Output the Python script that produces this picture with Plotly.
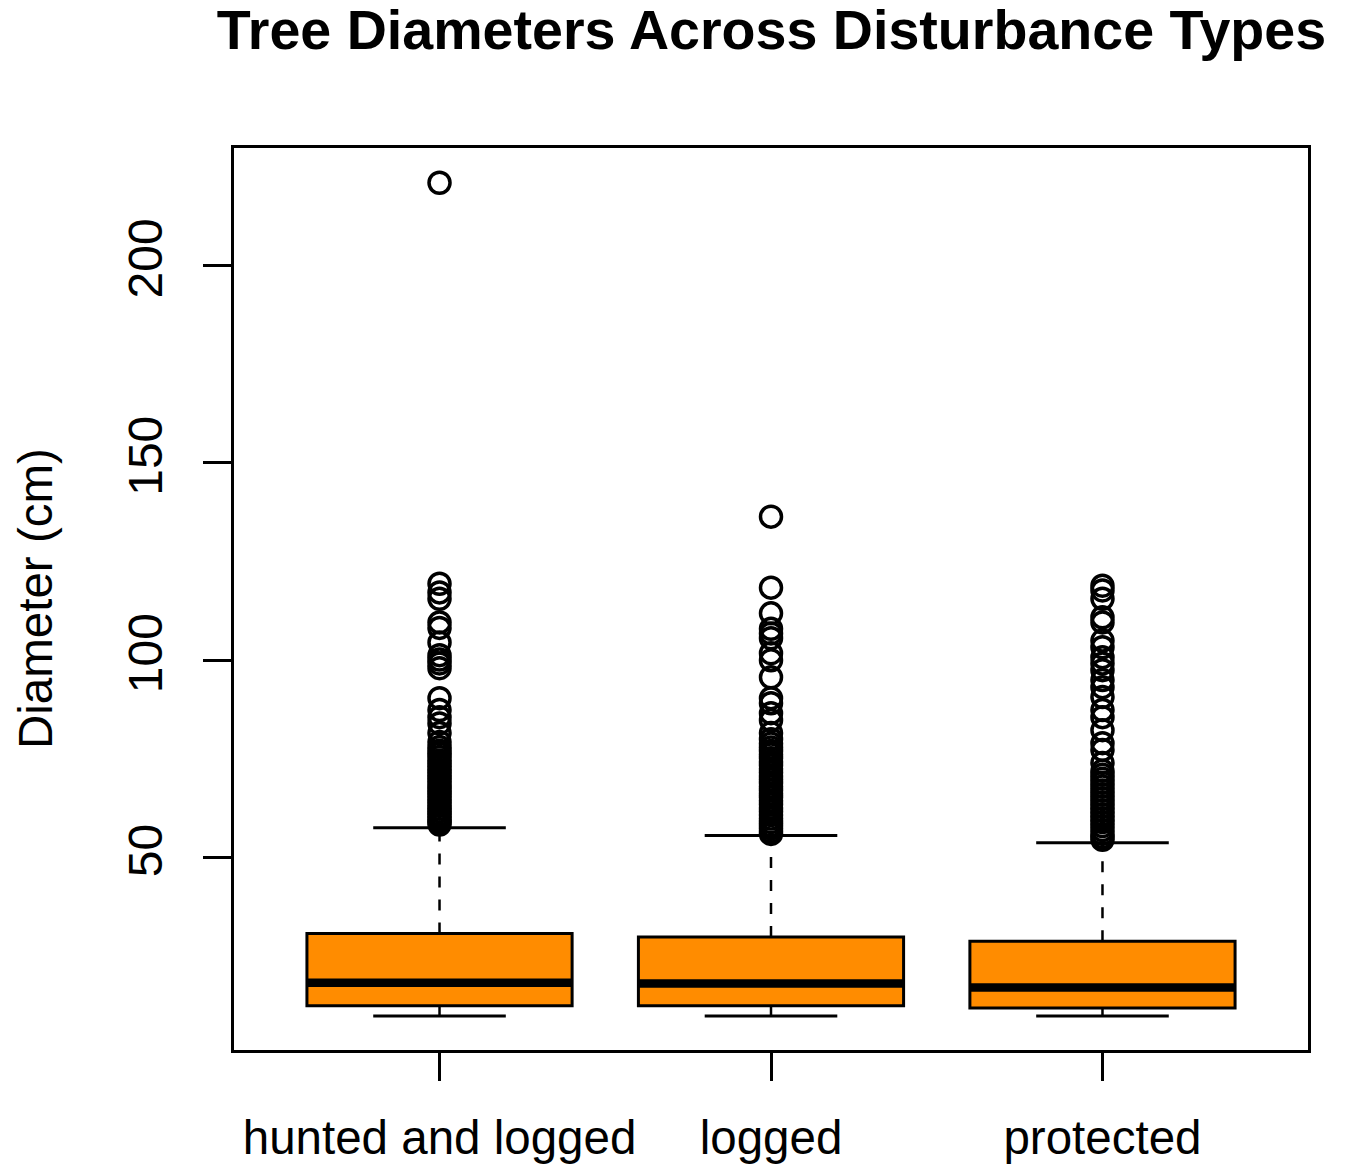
import plotly.graph_objects as go

categories = ["hunted and logged", "logged", "protected"]
lower_whisker = [9.9, 9.9, 9.9]
q1 = [12.5, 12.5, 11.9]
median = [18.3, 18.1, 17.1]
q3 = [30.8, 29.9, 28.8]
upper_whisker = [57.6, 55.6, 53.8]

outliers_hunted = [221.0, 119.4, 117.2, 115.6, 109.6, 108.2, 104.5, 101.3, 100.2, 99.2, 98.0,
                   90.4, 87.4, 85.6, 84.0, 81.6, 79.3, 78.0, 77.1, 76.3, 75.5, 74.6, 73.8,
                   73.0, 72.2, 71.5, 70.7, 70.0, 69.2, 68.4, 67.6, 66.9, 66.1, 65.4, 64.6,
                   63.9, 63.1, 62.4, 61.7, 61.0, 60.3, 59.6, 59.0, 58.4]
outliers_logged = [136.4, 118.4, 111.9, 108.0, 106.8, 105.6, 101.8, 100.0, 95.7, 90.4, 89.1,
                   86.6, 84.8, 81.6, 80.0, 78.9, 77.9, 77.0, 76.1, 75.2, 74.3, 73.4, 72.5,
                   71.6, 70.7, 69.8, 68.9, 68.0, 67.1, 66.2, 65.3, 64.4, 63.5, 62.6, 61.7,
                   60.8, 59.9, 59.0, 58.2, 57.4, 56.6, 56.0]
outliers_protected = [118.9, 117.7, 115.6, 110.9, 109.6, 105.0, 103.3, 100.8, 99.2, 97.5, 95.0,
                      93.2, 90.7, 87.4, 85.6, 82.3, 79.0, 77.3, 74.0, 72.0, 71.0, 70.0, 69.0,
                      68.0, 67.0, 66.0, 65.0, 64.0, 63.0, 62.0, 61.0, 60.0, 59.0, 58.0, 57.0,
                      56.0, 55.2, 54.5]
outliers = [outliers_hunted, outliers_logged, outliers_protected]
y_ticks = [50, 100, 150, 200]

FONT = "Liberation Sans, Arial, Helvetica, sans-serif"
ORANGE = "#FF8C00"
BOX_W = 0.8
CAP_HALF = 0.2

fig = go.Figure()
xs = [1, 2, 3]

for i, x in enumerate(xs):
    fig.add_trace(go.Box(
        x=[x], q1=[q1[i]], median=[median[i]], q3=[q3[i]],
        lowerfence=[q1[i]], upperfence=[q3[i]],
        width=BOX_W, fillcolor=ORANGE,
        line=dict(color="black", width=3),
        boxpoints=False, showlegend=False, hoverinfo="skip",
    ))

# dashed whiskers
wx, wy = [], []
for i, x in enumerate(xs):
    wx += [x, x, None, x, x, None]
    wy += [q3[i], upper_whisker[i], None, q1[i], lower_whisker[i], None]
fig.add_trace(go.Scatter(x=wx, y=wy, mode="lines",
                         line=dict(color="black", width=2.5, dash="11px,12px"),
                         showlegend=False, hoverinfo="skip"))

# staples
cx, cy = [], []
for i, x in enumerate(xs):
    cx += [x - CAP_HALF, x + CAP_HALF, None, x - CAP_HALF, x + CAP_HALF, None]
    cy += [upper_whisker[i], upper_whisker[i], None, lower_whisker[i], lower_whisker[i], None]
fig.add_trace(go.Scatter(x=cx, y=cy, mode="lines",
                         line=dict(color="black", width=3),
                         showlegend=False, hoverinfo="skip"))

# thick median
mx, my = [], []
for i, x in enumerate(xs):
    mx += [x - BOX_W / 2, x + BOX_W / 2, None]
    my += [median[i], median[i], None]
fig.add_trace(go.Scatter(x=mx, y=my, mode="lines",
                         line=dict(color="black", width=8.5),
                         showlegend=False, hoverinfo="skip"))

# outliers
for i, x in enumerate(xs):
    fig.add_trace(go.Scatter(
        x=[x] * len(outliers[i]), y=outliers[i], mode="markers",
        marker=dict(symbol="circle-open", size=21, color="black", line=dict(width=3.5, color="black")),
        showlegend=False, hoverinfo="skip"))

fig.update_layout(
    width=1347, height=1168,
    margin=dict(l=226, r=47, t=140, b=119),
    paper_bgcolor="white", plot_bgcolor="white",
    font=dict(family=FONT, color="black", size=47.5),
    title=dict(text="<b>Tree Diameters Across Disturbance Types</b>",
               font=dict(family=FONT, size=55.6, color="black"),
               x=763.5 / 1347, xanchor="center", y=1 - 2 / 1168, yanchor="top",
               xref="container", yref="container", pad=dict(t=0, b=0, l=0, r=0)),
    annotations=[dict(text="Diameter (cm)", textangle=-90, xref="paper", yref="paper",
                      x=(27 - 226) / 1074, y=0.5, xanchor="center", yanchor="middle",
                      showarrow=False, font=dict(family=FONT, size=47.5, color="black"))],
)
fig.update_xaxes(range=[0.38, 3.62], tickvals=xs, ticktext=categories,
                 showgrid=False, zeroline=False,
                 showline=True, linecolor="black", linewidth=2.5, mirror=True,
                 ticks="outside", ticklen=28, tickwidth=2.5, tickcolor="black",
                 ticklabelstandoff=16, tickfont=dict(size=47.5))
fig.update_yaxes(range=[1.26, 229.8], tickvals=y_ticks, ticktext=[str(v) for v in y_ticks],
                 showgrid=False, zeroline=False,
                 showline=True, linecolor="black", linewidth=2.5, mirror=True,
                 ticks="outside", ticklen=28, tickwidth=2.5, tickcolor="black",
                 tickangle=-90, ticklabelstandoff=22, tickfont=dict(size=48))

fig.write_html("out.html")
